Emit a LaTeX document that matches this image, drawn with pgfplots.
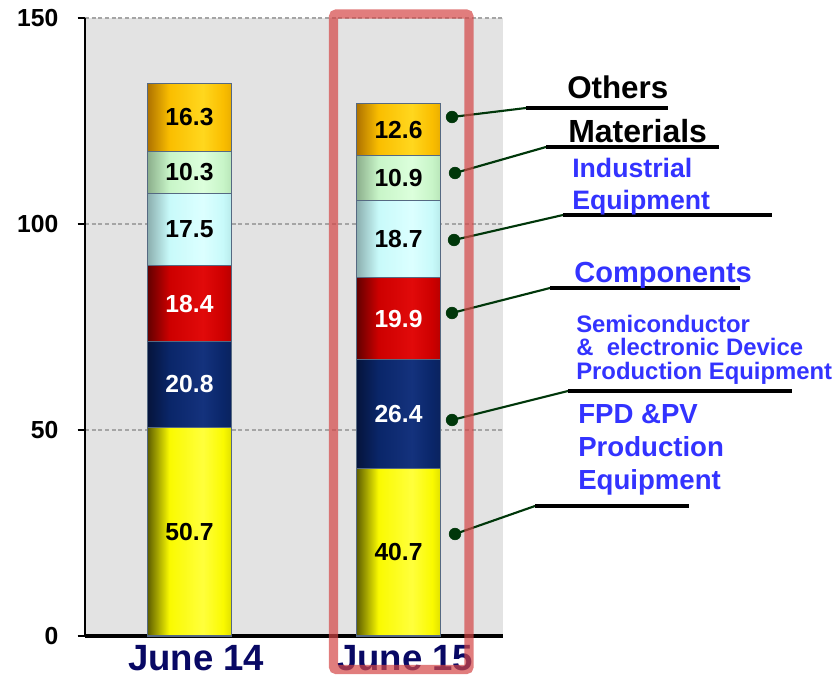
\documentclass[border=0pt]{standalone}
\usepackage{fontspec}
\setmainfont{Liberation Sans}
\usepackage{pgfplots}
\pgfplotsset{compat=1.18}

\definecolor{bgray}{RGB}{227,227,227}
\definecolor{gridgray}{RGB}{165,165,165}
\definecolor{edgecol}{RGB}{85,105,130}
\definecolor{lblnavy}{RGB}{8,8,100}
\definecolor{lblblue}{RGB}{51,51,255}
\definecolor{leadgreen}{RGB}{0,55,10}
\definecolor{hired}{RGB}{212,70,70}

% yellow
\definecolor{yA}{RGB}{95,95,0}\definecolor{yB}{RGB}{250,250,0}\definecolor{yC}{RGB}{255,255,60}\definecolor{yD}{RGB}{225,225,0}
% navy
\definecolor{nA}{RGB}{5,20,60}\definecolor{nB}{RGB}{10,38,105}\definecolor{nC}{RGB}{20,50,125}\definecolor{nD}{RGB}{10,35,95}
% red
\definecolor{rA}{RGB}{100,0,0}\definecolor{rB}{RGB}{205,0,0}\definecolor{rC}{RGB}{225,10,10}\definecolor{rD}{RGB}{185,0,0}
% light cyan
\definecolor{cA}{RGB}{140,175,175}\definecolor{cB}{RGB}{200,250,250}\definecolor{cC}{RGB}{220,255,255}\definecolor{cD}{RGB}{185,235,235}
% light green
\definecolor{gA}{RGB}{140,175,140}\definecolor{gB}{RGB}{200,245,200}\definecolor{gC}{RGB}{220,255,220}\definecolor{gD}{RGB}{185,230,185}
% orange
\definecolor{oA}{RGB}{175,115,0}\definecolor{oB}{RGB}{250,190,0}\definecolor{oC}{RGB}{255,215,30}\definecolor{oD}{RGB}{235,175,0}

\newcommand\barshade[5]{\pgfdeclarehorizontalshading{#1}{100bp}{color(0bp)=(#2); color(25bp)=(#2); color(38bp)=(#3); color(58bp)=(#4); color(70bp)=(#3); color(75bp)=(#5); color(100bp)=(#5)}}
\barshade{shY}{yA}{yB}{yC}{yD}
\barshade{shN}{nA}{nB}{nC}{nD}
\barshade{shR}{rA}{rB}{rC}{rD}
\barshade{shC}{cA}{cB}{cC}{cD}
\barshade{shG}{gA}{gB}{gC}{gD}
\barshade{shO}{oA}{oB}{oC}{oD}

\pgfplotsset{
  geom/.style={at={(63.75pt,29.25pt)}, anchor=south west,
    scale only axis, width=313.5pt, height=463.5pt},
  datalim/.style={xmin=-0.5, xmax=1.5, ymin=0, ymax=150},
  seg/.style={shade, shading=#1, draw=edgecol, line width=0.8pt},
}

\begin{document}
\begin{tikzpicture}
% main axis with the June 14 bar
\begin{axis}[
  geom, datalim,
  ybar stacked, bar width=0.4,
  axis background/.style={fill=bgray},
  axis x line*=bottom, axis y line*=left,
  x axis line style={line width=3pt, black},
  y axis line style={line width=1pt, black},
  xtick={0,1}, xticklabels={June 14, June 15},
  xtick style={draw=none},
  ytick={0,50,100,150},
  ymajorgrids,
  grid style={gridgray, line width=1.3pt, dash pattern=on 3pt off 2pt},
  tick align=outside, major tick length=5.5pt,
  ytick style={black, line width=0.8pt},
  /pgf/number format/assume math mode=true,
  yticklabel style={font=\fontsize{18.5}{20}\selectfont\bfseries, xshift=-11pt},
  xticklabel style={font=\fontsize{27.4}{30}\selectfont\bfseries, text=lblnavy, inner sep=0pt, anchor=north, xshift=5pt, yshift=-1pt},
]
\addplot[seg=shY] coordinates {(0,50.7)};
\addplot[seg=shN] coordinates {(0,20.8)};
\addplot[seg=shR] coordinates {(0,18.4)};
\addplot[seg=shC] coordinates {(0,17.5)};
\addplot[seg=shG] coordinates {(0,10.3)};
\addplot[seg=shO] coordinates {(0,16.3)};
\end{axis}

% June 15 bar
\begin{axis}[geom, datalim, hide axis, ybar stacked, bar width=0.4]
\addplot[seg=shY] coordinates {(1,40.7)};
\addplot[seg=shN] coordinates {(1,26.4)};
\addplot[seg=shR] coordinates {(1,19.9)};
\addplot[seg=shC] coordinates {(1,18.7)};
\addplot[seg=shG] coordinates {(1,10.9)};
\addplot[seg=shO] coordinates {(1,12.6)};
\end{axis}

% value labels
\begin{axis}[geom, datalim, hide axis]
\node[font=\fontsize{18.5}{20}\selectfont\bfseries, anchor=center, inner sep=0pt, text=black] at (axis cs:0,25.35) {50.7};
\node[font=\fontsize{18.5}{20}\selectfont\bfseries, anchor=center, inner sep=0pt, text=white] at (axis cs:0,61.1) {20.8};
\node[font=\fontsize{18.5}{20}\selectfont\bfseries, anchor=center, inner sep=0pt, text=white] at (axis cs:0,80.7) {18.4};
\node[font=\fontsize{18.5}{20}\selectfont\bfseries, anchor=center, inner sep=0pt, text=black] at (axis cs:0,98.65) {17.5};
\node[font=\fontsize{18.5}{20}\selectfont\bfseries, anchor=center, inner sep=0pt, text=black] at (axis cs:0,112.55) {10.3};
\node[font=\fontsize{18.5}{20}\selectfont\bfseries, anchor=center, inner sep=0pt, text=black] at (axis cs:0,125.85) {16.3};
\node[font=\fontsize{18.5}{20}\selectfont\bfseries, anchor=center, inner sep=0pt, text=black] at (axis cs:1,20.35) {40.7};
\node[font=\fontsize{18.5}{20}\selectfont\bfseries, anchor=center, inner sep=0pt, text=white] at (axis cs:1,53.9) {26.4};
\node[font=\fontsize{18.5}{20}\selectfont\bfseries, anchor=center, inner sep=0pt, text=white] at (axis cs:1,77.05) {19.9};
\node[font=\fontsize{18.5}{20}\selectfont\bfseries, anchor=center, inner sep=0pt, text=black] at (axis cs:1,96.35) {18.7};
\node[font=\fontsize{18.5}{20}\selectfont\bfseries, anchor=center, inner sep=0pt, text=black] at (axis cs:1,111.15) {10.9};
\node[font=\fontsize{18.5}{20}\selectfont\bfseries, anchor=center, inner sep=0pt, text=black] at (axis cs:1,122.9) {12.6};
\end{axis}

% overlay axis in pixel coordinates (x = px, y = -py)
\begin{axis}[
  geom, xmin=85, xmax=503, ymin=-636, ymax=-18,
  hide axis, clip=false,
]
\addplot[leadgreen, line width=1.6pt] coordinates {(452,-117) (526,-108)};
\addplot[leadgreen, line width=1.6pt] coordinates {(455,-173) (546,-147)};
\addplot[leadgreen, line width=1.6pt] coordinates {(454,-240) (563,-215)};
\addplot[leadgreen, line width=1.6pt] coordinates {(452,-313) (550,-288)};
\addplot[leadgreen, line width=1.6pt] coordinates {(452,-420) (568,-391)};
\addplot[leadgreen, line width=1.6pt] coordinates {(455,-534) (535,-506)};
\addplot[black, line width=2.6pt] coordinates {(526,-108) (668,-108)};
\addplot[black, line width=2.6pt] coordinates {(546,-147) (719,-147)};
\addplot[black, line width=2.6pt] coordinates {(563,-215) (772,-215)};
\addplot[black, line width=2.6pt] coordinates {(550,-288) (740,-288)};
\addplot[black, line width=2.6pt] coordinates {(568,-391) (792,-391)};
\addplot[black, line width=2.6pt] coordinates {(535,-506) (689,-506)};
\addplot[only marks, mark=*, mark size=4.4pt, leadgreen] coordinates {(452,-117) (455,-173) (454,-240) (452,-313) (452,-420) (455,-534)};
\node[anchor=base west, inner sep=0pt, text=black, font=\fontsize{23.5}{26}\selectfont\bfseries] at (axis cs:567,-99) {Others};
\node[anchor=base west, inner sep=0pt, text=black, font=\fontsize{24}{26}\selectfont\bfseries] at (axis cs:568,-143) {Materials};
\node[anchor=base west, inner sep=0pt, text=lblblue, font=\fontsize{20}{22}\selectfont\bfseries] at (axis cs:572,-178) {Industrial};
\node[anchor=base west, inner sep=0pt, text=lblblue, font=\fontsize{20}{22}\selectfont\bfseries] at (axis cs:572,-210) {Equipment};
\node[anchor=base west, inner sep=0pt, text=lblblue, font=\fontsize{21.8}{24}\selectfont\bfseries] at (axis cs:574,-283) {Components};
\node[anchor=base west, inner sep=0pt, text=lblblue, font=\fontsize{17.9}{20}\selectfont\bfseries] at (axis cs:576,-332) {Semiconductor};
\node[anchor=base west, inner sep=0pt, text=lblblue, font=\fontsize{17.9}{20}\selectfont\bfseries] at (axis cs:576,-355) {\&\ \ electronic Device};
\node[anchor=base west, inner sep=0pt, text=lblblue, font=\fontsize{17.9}{20}\selectfont\bfseries] at (axis cs:576,-379) {Production Equipment};
\node[anchor=base west, inner sep=0pt, text=lblblue, font=\fontsize{20.7}{23}\selectfont\bfseries] at (axis cs:578,-423) {FPD \&PV};
\node[anchor=base west, inner sep=0pt, text=lblblue, font=\fontsize{20.7}{23}\selectfont\bfseries] at (axis cs:578,-456) {Production};
\node[anchor=base west, inner sep=0pt, text=lblblue, font=\fontsize{20.7}{23}\selectfont\bfseries] at (axis cs:578,-489) {Equipment};
\draw[hired, draw opacity=0.7, line width=6.8pt, rounded corners=2pt] (axis cs:333.5,-14) rectangle (axis cs:469,-669.5);
\end{axis}
\pgfresetboundingbox
\path[use as bounding box] (0pt,0pt) rectangle (627.75pt,506.25pt);
\end{tikzpicture}
\end{document}
